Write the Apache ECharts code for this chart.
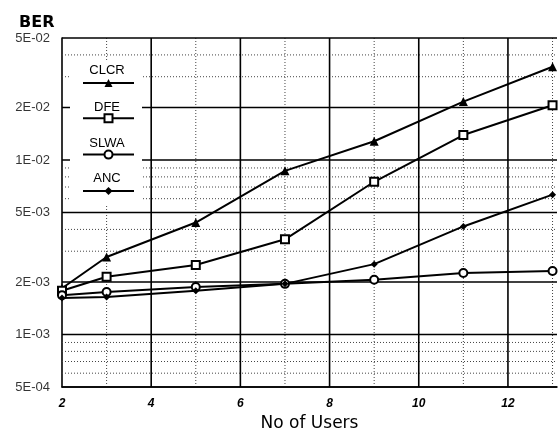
<!DOCTYPE html>
<html><head><meta charset="utf-8">
<script src="https://cdn.jsdelivr.net/npm/echarts@6/dist/echarts.min.js"></script>
<style>html,body{margin:0;padding:0;background:#fff}#c{width:560px;height:437px}</style>
</head><body><div id="c"></div>
<script>
// ---- data ----
const users = [2, 3, 5, 7, 9, 11, 13];
const seriesNames = ['CLCR', 'DFE', 'SLWA', 'ANC'];
const clcr = [1.84e-3, 2.78e-3, 4.38e-3, 8.66e-3, 1.28e-2, 2.16e-2, 3.42e-2];
const dfe  = [1.78e-3, 2.14e-3, 2.50e-3, 3.51e-3, 7.50e-3, 1.39e-2, 2.06e-2];
const slwa = [1.68e-3, 1.75e-3, 1.87e-3, 1.95e-3, 2.06e-3, 2.25e-3, 2.31e-3];
const anc  = [1.62e-3, 1.64e-3, 1.78e-3, 1.95e-3, 2.53e-3, 4.16e-3, 6.33e-3];
const yTickValues = [5e-2, 2e-2, 1e-2, 5e-3, 2e-3, 1e-3, 5e-4];
const yTickLabels = ['5E-02', '2E-02', '1E-02', '5E-03', '2E-03', '1E-03', '5E-04'];
const yMinorValues = [4e-2, 3e-2, 9e-3, 8e-3, 7e-3, 6e-3, 4e-3, 3e-3, 9e-4, 8e-4, 7e-4, 6e-4];
const xMajorValues = [4, 6, 8, 10, 12];
const xMinorValues = [3, 5, 7, 9, 11, 13];
const xTickLabels = ['2', '4', '6', '8', '10', '12'];

// ---- chart ----
const FONT = '"Liberation Sans", Arial, sans-serif';
const X_MIN = 2, X_MAX = 13.1, Y_MIN = 5e-4, Y_MAX = 5e-2;
const chart = echarts.init(document.getElementById('c'), null, {renderer: 'canvas'});
const solid = {color: '#000', width: 1.6, type: 'solid'};
const dotted = {color: '#444', width: 1, type: [1, 2]};

const series = [];
function gridSeries(data, style) {
  series.push({type: 'line', data: data, symbol: 'none', silent: true, clip: false, z: 1,
               lineStyle: style, emphasis: {disabled: true}, tooltip: {show: false}});
}
yMinorValues.forEach(v => gridSeries([[X_MIN, v], [X_MAX, v]], dotted));
xMinorValues.forEach(v => gridSeries([[v, Y_MIN], [v, Y_MAX]], dotted));
yTickValues.forEach(v => gridSeries([[X_MIN, v], [X_MAX, v]], solid));
xMajorValues.forEach(v => gridSeries([[v, Y_MIN], [v, Y_MAX]], solid));

// y tick labels (log positions through the axis scale)
series.push({
  type: 'scatter', silent: true, symbolSize: 0, z: 1,
  data: yTickValues.map((v, i) => ({value: [X_MIN, v], name: yTickLabels[i]})),
  label: {show: true, position: 'left', distance: 12, formatter: p => p.name,
          color: '#000', fontSize: 13, fontFamily: FONT}
});

const seriesData = [clcr, dfe, slwa, anc];
const symbols = ['triangle', 'rect', 'circle', 'diamond'];
const symSizes = [9, 8, 8, 7];
const itemStyles = [
  {color: '#000'},
  {color: '#fff', borderColor: '#000', borderWidth: 2},
  {color: '#fff', borderColor: '#000', borderWidth: 2},
  {color: '#000'}
];
seriesNames.forEach((n, k) => series.push({
  type: 'line', name: n, z: 2,
  data: users.map((u, i) => [u, seriesData[k][i]]),
  symbol: symbols[k], symbolSize: symSizes[k], showAllSymbol: true,
  lineStyle: {color: '#000', width: 2},
  itemStyle: itemStyles[k]
}));

const legendTextTop = [70, 107.5, 143, 178.5];
chart.setOption({
  animation: false,
  backgroundColor: '#fff',
  title: {text: 'BER', left: 14, top: 10,
          textStyle: {fontSize: 16, fontWeight: 'bold', color: '#000', fontFamily: '"DejaVu Sans", sans-serif'}},
  grid: {left: 62, right: -4.3, top: 38, bottom: 47, containLabel: false},
  xAxis: {
    type: 'value', min: X_MIN, max: X_MAX, interval: 1,
    name: 'No of Users', nameLocation: 'middle', nameGap: 28,
    nameTextStyle: {fontSize: 17, color: '#000', fontFamily: '"DejaVu Sans", sans-serif'},
    axisLine: {show: true, onZero: false, lineStyle: {color: '#000', width: 1.6}},
    axisTick: {show: false}, splitLine: {show: false},
    axisLabel: {margin: 11, color: '#000', fontSize: 12, fontStyle: 'italic', fontWeight: 'bold', fontFamily: FONT,
      formatter: v => { const s = String(v); return xTickLabels.indexOf(s) >= 0 ? s : ''; }}
  },
  yAxis: {
    type: 'log', logBase: 10, min: Y_MIN, max: Y_MAX,
    axisLine: {show: true, onZero: false, lineStyle: {color: '#000', width: 1.6}},
    axisTick: {show: false}, axisLabel: {show: false},
    splitLine: {show: false}, minorSplitLine: {show: false}
  },
  legend: {
    data: seriesNames, orient: 'vertical', left: 82, top: 78, z: 4,
    itemWidth: 51, itemHeight: 10, itemGap: 26.3, padding: 0,
    selectedMode: false, formatter: () => '',
    textStyle: {fontSize: 1}
  },
  graphic: [
    {type: 'rect', left: 70, top: 60, shape: {width: 72, height: 145}, style: {fill: '#fff'}, z: 3, silent: true}
  ].concat(seriesNames.map((n, i) => ({
    type: 'text', x: 107, y: legendTextTop[i], z: 5, silent: true,
    style: {text: n, textAlign: 'center', textVerticalAlign: 'middle', fill: '#000', font: '13px ' + FONT}
  }))),
  series: series
});
</script></body></html>
